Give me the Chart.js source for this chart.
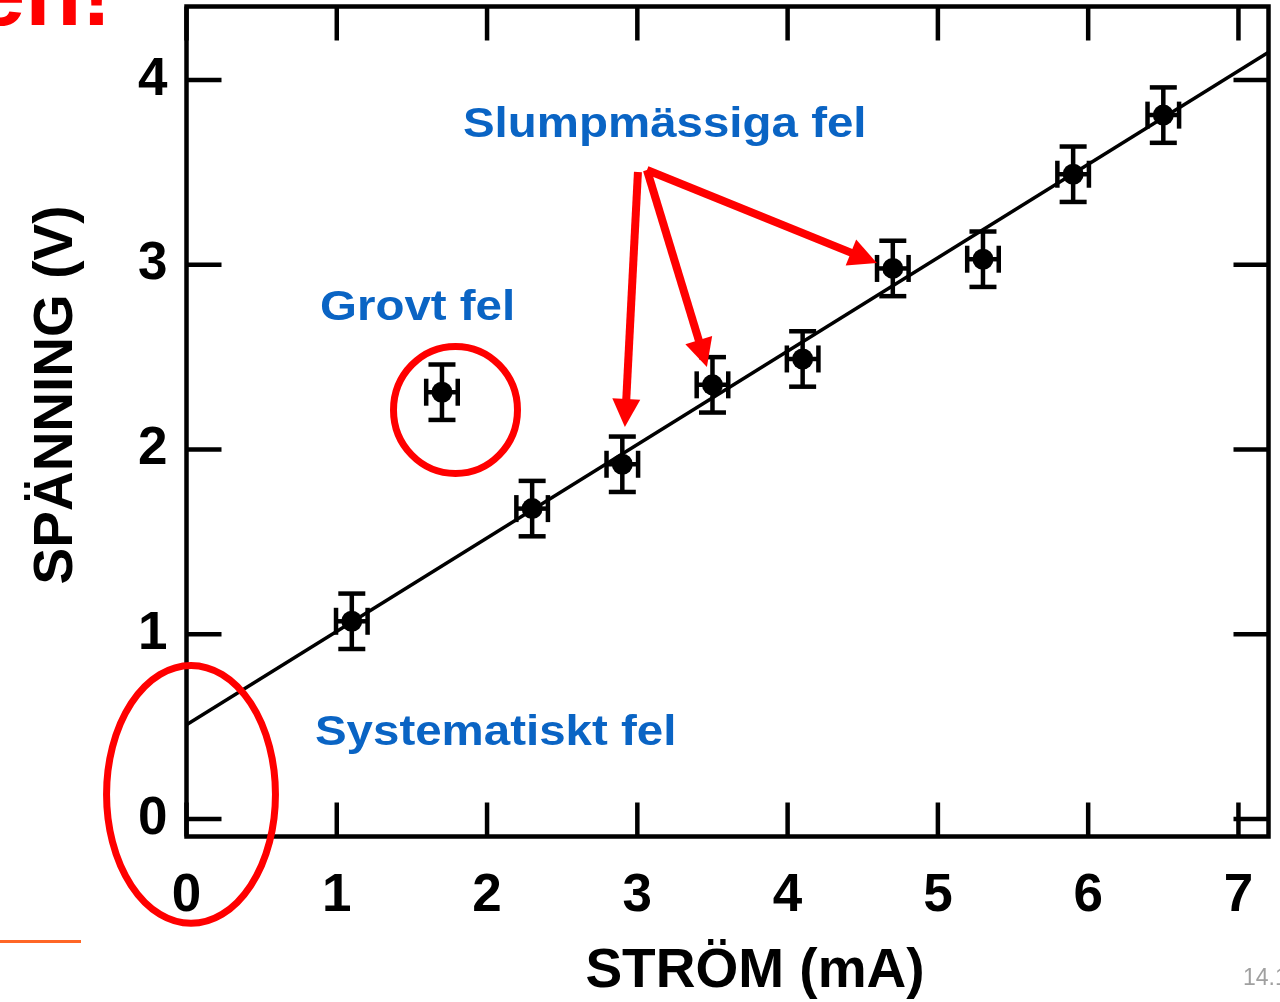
<!DOCTYPE html>
<html>
<head>
<meta charset="utf-8">
<script src="https://cdn.jsdelivr.net/npm/chart.js@4.4.1/dist/chart.umd.min.js"></script>
<style>
  html,body{margin:0;padding:0;background:#fff;overflow:hidden;}
  #wrap{position:relative;width:1280px;height:1002px;}
</style>
</head>
<body>
<div id="wrap"><canvas id="chart" width="1280" height="1002"></canvas></div>
<script>
// measured points (ström mA / spänning V)
const xVals = [1.1, 1.7, 2.3, 2.9, 3.5, 4.1, 4.7, 5.3, 5.9, 6.5];
const yVals = [1.07, 2.31, 1.68, 1.92, 2.35, 2.49, 2.98, 3.03, 3.49, 3.81];
const xErr  = [0.105, 0.105, 0.105, 0.105, 0.105, 0.105, 0.105, 0.105, 0.105, 0.105];
const yErr  = [0.15, 0.15, 0.15, 0.15, 0.15, 0.15, 0.15, 0.15, 0.15, 0.15];
// fitted line end points
const fitX = [0, 7.2];
const fitY = [0.51, 4.15];
const xTicks = [0, 1, 2, 3, 4, 5, 6, 7];
const yTicks = [0, 1, 2, 3, 4];

// annotations (in data units)
const noteTexts = ['Slumpmässiga fel', 'Grovt fel', 'Systematiskt fel'];
const noteX = [1.853, 0.902, 0.868];
const noteY = [3.692, 2.701, 0.4005];
const ringX = [1.79, 0.03], ringY = [2.214, 0.133];
const ringRx = [0.4125, 0.562], ringRy = [0.344, 0.698];
const arrowFromX = [3.004, 3.064, 3.064], arrowFromY = [3.502, 3.513, 3.513];
const arrowToX = [2.917, 3.463, 4.594], arrowToY = [2.122, 2.447, 3.009];

const FONT = '"Liberation Sans", Arial, sans-serif';
const RED = '#ff0000', BLUE = '#0a64c4';

const points = xVals.map((x,i)=>({x:x, y:yVals[i]}));
const fit = fitX.map((x,i)=>({x:x, y:fitY[i]}));

function line(ctx,x1,y1,x2,y2){ctx.beginPath();ctx.moveTo(x1,y1);ctx.lineTo(x2,y2);ctx.stroke();}
function noPad(s){ s.paddingTop = 0; s.paddingBottom = 0; s.paddingLeft = 0; s.paddingRight = 0; }

const errPlugin = {
  id:'errbars',
  beforeDatasetsDraw(chart){
    const ctx = chart.ctx, sx = chart.scales.x, sy = chart.scales.y;
    ctx.save();
    ctx.strokeStyle = '#000'; ctx.lineWidth = 4.5; ctx.lineCap = 'butt';
    xVals.forEach((x,i)=>{
      const px = sx.getPixelForValue(x), py = sy.getPixelForValue(yVals[i]);
      const t = sy.getPixelForValue(yVals[i]+yErr[i]), b = sy.getPixelForValue(yVals[i]-yErr[i]);
      const l = sx.getPixelForValue(x-xErr[i]), r = sx.getPixelForValue(x+xErr[i]);
      line(ctx,px,t,px,b);
      line(ctx,px-13.5,t,px+13.5,t);
      line(ctx,px-13.5,b,px+13.5,b);
      line(ctx,l,py,r,py);
      line(ctx,l,py-13.5,l,py+13.5);
      line(ctx,r,py-13.5,r,py+13.5);
    });
    ctx.restore();
  },
  afterDraw(chart){
    const ctx = chart.ctx, sx = chart.scales.x, sy = chart.scales.y, a = chart.chartArea;
    ctx.save();
    // frame + inner ticks
    ctx.strokeStyle = '#000'; ctx.lineWidth = 4.5;
    ctx.strokeRect(a.left, a.top, a.right-a.left, a.bottom-a.top);
    xTicks.forEach(v=>{
      const p = sx.getPixelForValue(v);
      line(ctx,p,a.bottom,p,a.bottom-34);
      line(ctx,p,a.top,p,a.top+34);
    });
    yTicks.forEach(v=>{
      const p = sy.getPixelForValue(v);
      line(ctx,a.left,p,a.left+35,p);
      line(ctx,a.right,p,a.right-35,p);
    });
    // axis titles
    ctx.fillStyle = '#000';
    ctx.font = 'bold 55px ' + FONT;
    ctx.textAlign = 'center'; ctx.textBaseline = 'alphabetic';
    ctx.fillText('STRÖM (mA)', 755, 987);
    ctx.save();
    ctx.translate(72, 395); ctx.rotate(-Math.PI/2);
    ctx.fillText('SPÄNNING (V)', 0, 0);
    ctx.restore();
    // red rings
    ctx.strokeStyle = RED; ctx.lineWidth = 7;
    ringX.forEach((x,i)=>{
      const cx = sx.getPixelForValue(x), cy = sy.getPixelForValue(ringY[i]);
      const rx = sx.getPixelForValue(x+ringRx[i]) - cx;
      const ry = cy - sy.getPixelForValue(ringY[i]+ringRy[i]);
      ctx.beginPath(); ctx.ellipse(cx,cy,rx,ry,0,0,Math.PI*2); ctx.stroke();
    });
    // red arrows
    ctx.fillStyle = RED; ctx.lineWidth = 8;
    arrowFromX.forEach((x,i)=>{
      const x1 = sx.getPixelForValue(x), y1 = sy.getPixelForValue(arrowFromY[i]);
      const x2 = sx.getPixelForValue(arrowToX[i]), y2 = sy.getPixelForValue(arrowToY[i]);
      const len = Math.hypot(x2-x1,y2-y1), ux = (x2-x1)/len, uy = (y2-y1)/len;
      const hl = 28, hw = 14;
      const bx = x2-ux*hl, by = y2-uy*hl;
      line(ctx,x1,y1,bx+ux*2,by+uy*2);
      ctx.beginPath();
      ctx.moveTo(x2,y2);
      ctx.lineTo(bx-uy*hw, by+ux*hw);
      ctx.lineTo(bx+uy*hw, by-ux*hw);
      ctx.closePath(); ctx.fill();
    });
    // blue labels (slightly wide lettering)
    ctx.fillStyle = BLUE; ctx.font = 'bold 42px ' + FONT;
    ctx.textAlign = 'left';
    noteTexts.forEach((t,i)=>{
      ctx.save();
      ctx.translate(sx.getPixelForValue(noteX[i]) - 2, sy.getPixelForValue(noteY[i]));
      ctx.scale(1.13,1);
      ctx.fillText(t,0,0);
      ctx.restore();
    });
    // slide remnants
    ctx.fillStyle = RED; ctx.font = 'bold 92px ' + FONT; ctx.textAlign = 'right';
    ctx.fillText('en!', 112, 25);
    ctx.fillStyle = '#ff6626'; ctx.fillRect(0, 940, 81, 3);
    ctx.fillStyle = '#a0a0a0'; ctx.font = '23px ' + FONT; ctx.textAlign = 'left';
    ctx.fillText('14.1', 1243, 985);
    ctx.restore();
  }
};

new Chart(document.getElementById('chart'), {
  type: 'scatter',
  data: {
    datasets: [
      {data: points, backgroundColor:'#000', borderColor:'#000', pointRadius:10.5, pointHoverRadius:10.5, borderWidth:0},
      {data: fit, showLine:true, borderColor:'#000', borderWidth:3.5, pointRadius:0, fill:false}
    ]
  },
  options: {
    responsive:false, animation:false, devicePixelRatio:1,
    layout:{autoPadding:false, padding:{top:6.5, right:11.5, left:0, bottom:0}},
    plugins:{legend:{display:false}, tooltip:{enabled:false}},
    scales:{
      x:{
        type:'linear', min:0, max:7.2,
        afterBuildTicks(s){ s.ticks = xTicks.map(v=>({value:v})); },
        afterFit(s){ s.height = 165.5; noPad(s); },
        grid:{display:false, drawTicks:false}, border:{display:false},
        ticks:{color:'#000', font:{family:FONT, size:53, weight:'bold'}, padding:28, maxRotation:0, autoSkip:false, callback:v=>String(v)}
      },
      y:{
        type:'linear', min:-0.095, max:4.398,
        afterBuildTicks(s){ s.ticks = yTicks.map(v=>({value:v})); },
        afterFit(s){ s.width = 186.5; noPad(s); },
        grid:{display:false, drawTicks:false}, border:{display:false},
        ticks:{color:'#000', font:{family:FONT, size:53, weight:'bold'}, padding:19, autoSkip:false, callback:v=>String(v)}
      }
    }
  },
  plugins:[errPlugin]
});
</script>
</body>
</html>
